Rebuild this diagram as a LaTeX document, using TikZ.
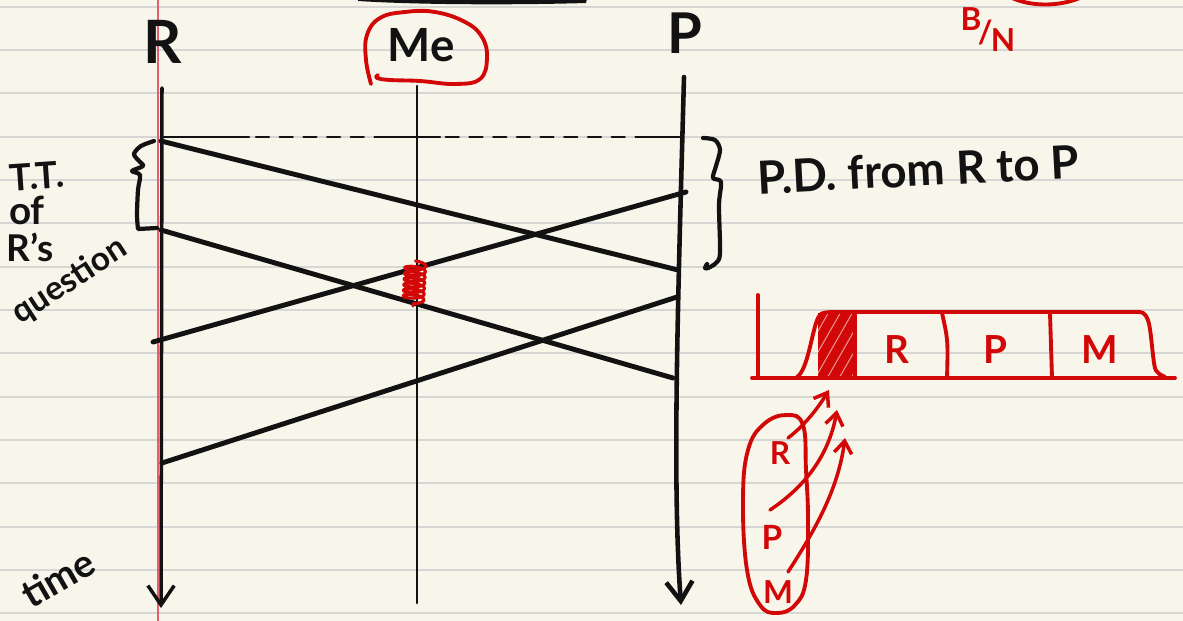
\documentclass[tikz,border=0pt]{standalone}
\usepackage{fontspec}
\setmainfont{Lato}
\usetikzlibrary{arrows.meta,calc,decorations.pathmorphing}
\definecolor{paper}{RGB}{248,246,234}
\definecolor{rulecol}{RGB}{214,214,212}
\definecolor{margincol}{RGB}{226,96,112}
\definecolor{ink}{RGB}{18,18,18}
\definecolor{redink}{RGB}{210,8,8}
\begin{document}
\begin{tikzpicture}[x=0.02cm,y=-0.02cm,line cap=round,line join=round,
  hand/.style={text=ink,inner sep=0pt,font=\bfseries\fontsize{#1}{#1}\selectfont},
  hand/.default=20,
  redhand/.style={hand=#1,text=redink},
  redhand/.default=18,
  lifeline/.style={draw=ink,line width=1.5pt},
  msg/.style={draw=ink,line width=2.8pt},
  brace/.style={draw=ink,line width=2.4pt},
  dashline/.style={draw=ink,line width=1.2pt,dash pattern=on 7.5pt off 6pt},
  redline/.style={draw=redink,line width=2.2pt},
  redarrow/.style={draw=redink,line width=2pt,-{Straight Barb[length=7pt,width=10pt]}},
  timearrow/.style={-{Straight Barb[length=11pt,width=15pt]}}]
\fill[paper] (0,0) rectangle (1183,621);
\useasboundingbox (0,0) rectangle (1183,621);
% ruled paper
\foreach \k in {0,...,14}
  \draw[rulecol,line width=1.1pt] (0,{6.67+43.33*\k}) -- (1183,{6.67+43.33*\k});
\draw[margincol,line width=0.8pt] (158,0) -- (158,621);
% fragments at the top edge
\fill[ink] (358,-6) -- (358,1) .. controls (420,5) and (520,5) .. (586,3) -- (588,-6) -- cycle;
\draw[redline] (1010,-3) .. controls (1030,7) and (1060,7) .. (1082,-3);
\node[redhand=18] (bn) at (988,30) {\raisebox{7pt}{B}\kern-2pt/\kern-1pt\raisebox{-5pt}{N}};
% lifeline labels
\node[hand=34] (lR) at (163,42) {R};
\node[hand=26] (lMe) at (421,45) {Me};
\node[hand=32] (lP) at (685,33) {P};
\draw[redline] plot[smooth,tension=0.7] coordinates {(371,84) (366,60) (367,35) (380,18) (405,12) (435,12) (465,22) (482,37) (487,58) (480,79) (455,84) (420,81) (390,80) (377,78) (378,75)};
% lifelines
\coordinate (Rtop) at (162,88);  \coordinate (Rbot) at (161,608);
\coordinate (Mtop) at (417,86);  \coordinate (Mbot) at (417,603);
\coordinate (Ptop) at (684,77);  \coordinate (Pbot) at (681,605);
\draw[lifeline,line width=2pt,timearrow] (Rtop) -- (Rbot);
\draw[lifeline] (Mtop) -- (Mbot);
\draw[msg,line width=2.6pt,timearrow] (Ptop) .. controls (678,300) and (672,480) .. (Pbot);
% dashed reference line
\coordinate (D0) at (161,137); \coordinate (D1) at (683,137);
\draw[dashline] (D0) -- (D1);
\draw[ink,line width=1.2pt] (D0) -- ++(88,0);
\draw[ink,line width=1.2pt] (377,137) -- (440,137);
\draw[ink,line width=1.2pt] (643,137) -- (D1);
% messages
\coordinate (R1) at (161,141); \coordinate (P1) at (678,270);
\coordinate (R2) at (161,230); \coordinate (P2) at (673,378);
\coordinate (R3) at (153,342); \coordinate (P3) at (686,192);
\coordinate (R4) at (162,463); \coordinate (P4) at (677,297);
\draw[msg] (R1) -- (P1);
\draw[msg] (R2) -- (P2);
\draw[msg] (R3) -- (P3);
\draw[msg] (R4) -- (P4);
% red squiggle on Me
\coordinate (sq1) at ($(R3)!0.5!(P3)+(-4,-6)$);
\coordinate (sq2) at ($(R2)!0.5!(P2)+(-4,2)$);
\draw[redink,line width=1.8pt,decorate,decoration={coil,amplitude=6pt,segment length=3.2pt,aspect=0.3}] (sq1) -- (sq2);
% left brace and label
\draw[brace] plot[smooth] coordinates {(154,141) (141,146) (134,154) (139,161) (143,166) (132,171) (140,175) (138,190) (137,215) (138,229)} -- (157,228);
\node[hand=21,rotate=4] (tt) at (37,176) {T.T.};
\node[hand=22] (of) at (27,210) {of};
\node[hand=21] (rs) at (30,247) {R’s};
\node[hand=19,rotate=33] (qu) at (70,281) {question};
\node[hand=22,rotate=30] (ti) at (58,578) {time};
% right brace and label
\draw[brace] plot[smooth] coordinates {(703,138) (715,140) (720,150) (716,166) (713,178) (721,182) (719,205) (720,253) (716,263) (708,268) (705,268) (707,264)};
\node[hand=26,rotate=3,anchor=west] (pd) at (757,178) {P.D. from R to P};
% red buffer chart
\fill[redink] (818,313) rectangle (855,378);
\begin{scope}
  \clip (818,313) rectangle (855,378);
  \foreach \i in {0,...,9}
    \draw[paper,line width=0.6pt,opacity=0.6] ({790+\i*12},380) -- ++(40,-70);
\end{scope}
\draw[redline] (758,295) -- (758,378);
\draw[redline] (752,378) -- (1175,378);
\draw[redline] (797,377) .. controls (808,370) and (812,330) .. (818,318) .. controls (821,313) .. (830,312) -- (1140,312) .. controls (1150,313) and (1150,330) .. (1153,355) .. controls (1155,372) .. (1165,377);
\draw[redline] (855,313) -- (855,378);
\draw[redline] (942,313) .. controls (948,340) .. (947,378);
\draw[redline] (1050,313) -- (1052,378);
\node[redhand=22] (bR) at (897,350) {R};
\node[redhand=22] (bP) at (995,350) {P};
\node[redhand=22] (bM) at (1100,350) {M};
% red group of R, P, M
\draw[redline] plot[smooth cycle,tension=0.7] coordinates {(787,415) (803,425) (806,470) (808,520) (806,580) (795,605) (777,613) (760,605) (747,570) (743,500) (748,450) (764,424)};
\node[redhand=18] (eR) at (780,453) {R};
\node[redhand=19] (eP) at (772,537) {P};
\node[redhand=18] (eM) at (778,592) {M};
\coordinate (a1s) at (788,438); \coordinate (t1) at (829,390);
\coordinate (a2s) at (770,510); \coordinate (t2) at (837,410);
\coordinate (a3s) at (788,572); \coordinate (t3) at (845,438);
\draw[redarrow] (a1s) .. controls (805,425) and (818,408) .. (t1);
\draw[redarrow] (a2s) .. controls (800,490) and (828,460) .. (t2);
\draw[redarrow] (a3s) .. controls (815,530) and (838,490) .. (t3);
\end{tikzpicture}
\end{document}
